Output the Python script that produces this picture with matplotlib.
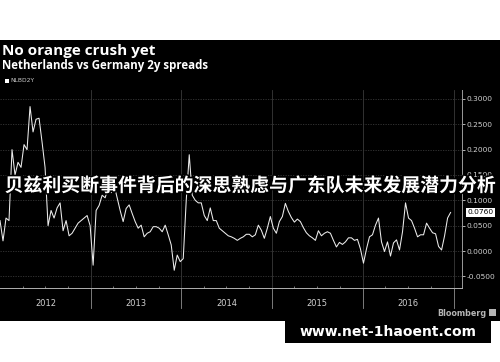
import matplotlib
matplotlib.use("Agg")
import matplotlib.pyplot as plt
import matplotlib.dates as mdates
import matplotlib.transforms as mtransforms
import matplotlib.patheffects as pe
from matplotlib.patches import Rectangle
import pandas as pd

# NLBD2Y spread, every 12 days
values = [
    0.060, 0.020, 0.065, 0.060, 0.200, 0.150, 0.175, 0.165, 0.210, 0.200,
    0.285, 0.235, 0.260, 0.262, 0.215, 0.165, 0.050, 0.080, 0.065, 0.085,
    0.095, 0.040, 0.060, 0.030, 0.035, 0.045, 0.055, 0.060, 0.065, 0.070,
    0.050, -0.028, 0.080, 0.090, 0.110, 0.105, 0.125, 0.115, 0.130, 0.105,
    0.080, 0.058, 0.084, 0.091, 0.074, 0.058, 0.045, 0.051, 0.028, 0.035,
    0.038, 0.048, 0.048, 0.045, 0.038, 0.051, 0.032, 0.012, -0.038, -0.008,
    -0.021, -0.015, 0.100, 0.190, 0.110, 0.100, 0.095, 0.095, 0.070, 0.060,
    0.085, 0.060, 0.060, 0.045, 0.040, 0.035, 0.030, 0.028, 0.025, 0.021,
    0.025, 0.028, 0.033, 0.033, 0.028, 0.032, 0.051, 0.041, 0.025, 0.045,
    0.068, 0.045, 0.035, 0.058, 0.068, 0.094, 0.078, 0.066, 0.057, 0.063,
    0.058, 0.046, 0.036, 0.030, 0.026, 0.021, 0.040, 0.030, 0.035, 0.038,
    0.035, 0.021, 0.008, 0.017, 0.013, 0.018, 0.026, 0.026, 0.021, 0.023,
    0.004, -0.024, 0.004, 0.028, 0.032, 0.051, 0.065, 0.018, -0.001, 0.018,
    -0.010, 0.016, 0.022, 0.002, 0.038, 0.095, 0.065, 0.060, 0.045, 0.028,
    0.032, 0.032, 0.055, 0.045, 0.036, 0.034, 0.009, 0.002, 0.030, 0.065,
    0.076,
]
dates = pd.date_range("2012-01-01", "2016-12-20", periods=len(values))

years = [2012, 2013, 2014, 2015, 2016]
y_ticks = [-0.05, 0.0, 0.05, 0.10, 0.15, 0.20, 0.25, 0.30]
last_value = 0.0760

title = "No orange crush yet"
subtitle = "Netherlands vs Germany 2y spreads"
series_name = "NLBD2Y"
banner = "贝兹利买断事件背后的深思熟虑与广东队未来发展潜力分析"
site = "www.net-1haoent.com"

W, H = 500, 362
fig = plt.figure(figsize=(W / 100, H / 100), dpi=100, facecolor="white")

# black chart panel, kept behind the axes
fig.patches.append(Rectangle((0, 1 - 321 / H), 1, (321 - 40) / H,
                             transform=fig.transFigure, facecolor="black",
                             edgecolor="none", zorder=-10))

ax = fig.add_axes([0, 1 - 288 / H, 462 / W, (288 - 90) / H])
ax.set_facecolor("black")
ax.plot(dates, values, color="#ececec", lw=0.75, zorder=3)

ax.set_xlim(pd.Timestamp("2012-01-01"), pd.Timestamp("2017-02-04"))
ax.set_ylim(-0.073, 0.3177)

# right value axis
ax.yaxis.tick_right()
ax.set_yticks(y_ticks)
ax.set_yticklabels([f"{v:.4f}" for v in y_ticks])
ax.tick_params(axis="y", colors="#cfcfcf", labelsize=5.4, length=2.5,
               width=0.6, pad=0.8)
ax.grid(axis="y", color="#383838", lw=0.6, ls=(0, (1.5, 1.5)))

for side in ["top", "left"]:
    ax.spines[side].set_visible(False)
ax.spines["right"].set_color("#9a9a9a")
ax.spines["right"].set_linewidth(0.7)
ax.spines["bottom"].set_color("#b0b0b0")
ax.spines["bottom"].set_linewidth(0.7)

# quarter ticks on the time axis, labels centred in each year
ax.set_xticks([])
ax.xaxis.set_minor_locator(mdates.MonthLocator(bymonth=[4, 7, 10]))
ax.tick_params(axis="x", which="minor", direction="in", length=1.8,
               width=0.6, colors="#8a8a8a")
ax.xaxis.set_minor_formatter(plt.NullFormatter())

trans = mtransforms.blended_transform_factory(ax.transData, ax.transAxes)
for yr in years:
    mid = mdates.date2num(pd.Timestamp(f"{yr}-07-02"))
    ax.text(mid, -0.08, str(yr), transform=trans, ha="center", va="center",
            fontsize=6, color="#d0d0d0")
for yr in years[1:] + [2017]:
    d = mdates.date2num(pd.Timestamp(f"{yr}-01-01"))
    ax.axvline(d, color="#3a3a3a", lw=0.6, zorder=1)
    ax.plot([d, d], [0, -0.1], transform=trans, clip_on=False,
            color="#8f8f8f", lw=0.6)

# last value tag
ytrans = mtransforms.blended_transform_factory(ax.transAxes, ax.transData)
ax.text(1.012, last_value, f"{last_value:.4f}", transform=ytrans,
        ha="left", va="center", fontsize=5.4, color="black",
        bbox=dict(boxstyle="square,pad=0.15", facecolor="white",
                  edgecolor="none"), zorder=5)

# titles and legend
fig.text(2 / W, 1 - 51 / H, title, fontsize=11, fontweight="bold",
         family="Open Sans", color="white", va="center", ha="left")
fig.text(2 / W, 1 - 65 / H, subtitle, fontsize=8.3, fontweight="bold",
         family="Open Sans", color="white", va="center", ha="left")
fig.patches.append(Rectangle((5 / W, 1 - 83 / H), 4 / W, 4 / H,
                             transform=fig.transFigure, facecolor="white",
                             edgecolor="none", zorder=2))
fig.text(10 / W, 1 - 81 / H, series_name, fontsize=4.3, color="#cccccc",
         va="center", ha="left")

# Bloomberg mark
fig.text(486 / W, 1 - 313 / H, "Bloomberg", fontsize=5.8, fontweight="bold",
         color="#b5b5b5", va="center", ha="right")
fig.patches.append(Rectangle((489 / W, 1 - 316 / H), 7 / W, 7 / H,
                             transform=fig.transFigure, facecolor="#b5b5b5",
                             edgecolor="none", zorder=2))

# overlaid banner
fig.text(0.5, 1 - 186 / H, banner, fontsize=13.6, fontweight="bold",
         family=["Noto Sans CJK SC", "DejaVu Sans"], color="white",
         ha="center", va="center", zorder=10,
         path_effects=[pe.withStroke(linewidth=2.2, foreground="black")])

# site box
fig.patches.append(Rectangle((285 / W, 1 - 343 / H), 206 / W, 22 / H,
                             transform=fig.transFigure, facecolor="black",
                             edgecolor="none", zorder=2))
fig.text(388 / W, 1 - 332 / H, site, fontsize=10, fontweight="bold",
         color="white", ha="center", va="center", zorder=11)

fig.savefig("out.png", dpi=100, facecolor="white")
